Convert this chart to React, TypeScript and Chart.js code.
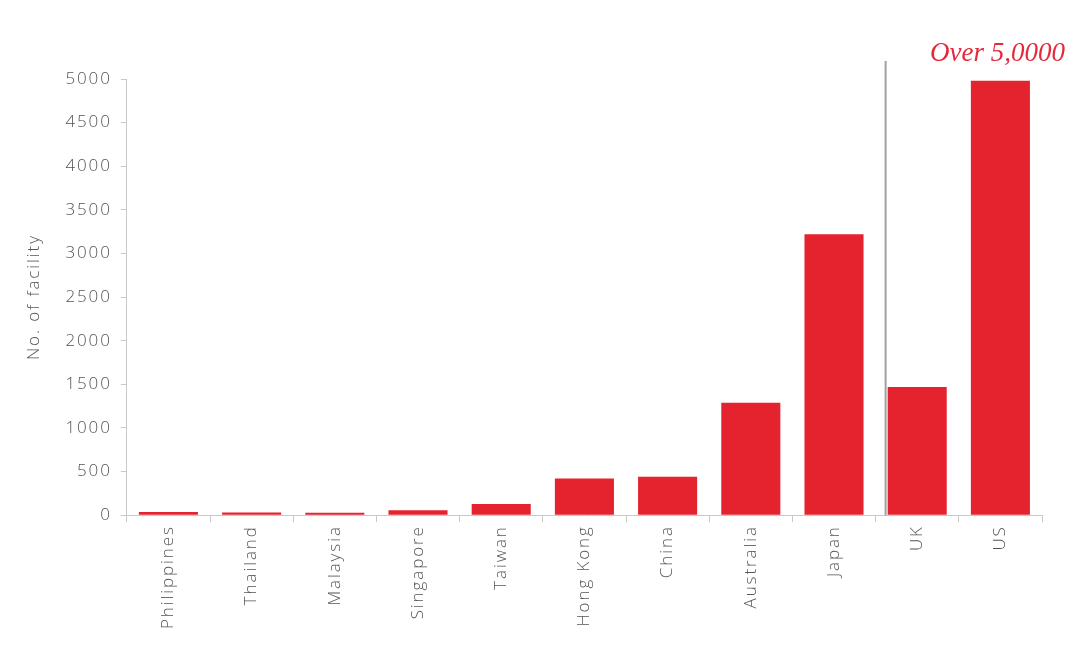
import React, { useEffect, useRef } from 'react';
import { Chart, registerables } from 'chart.js';

Chart.register(...registerables);

const categories = ['Philippines', 'Thailand', 'Malaysia', 'Singapore', 'Taiwan', 'Hong Kong', 'China', 'Australia', 'Japan', 'UK', 'US'];
const facilities = [38, 30, 27, 57, 130, 420, 440, 1290, 3220, 1470, 4980];
const yMin = 0;
const yMax = 5000;
const yStep = 500;
const yTitle = 'No. of facility';
const annotationText = 'Over 5,0000';
const dividerAfterIndex = 8; // line between Japan and UK

const BAR_RED = '#E5232F';
const AXIS_GREY = '#c8c8c8';
const TEXT_GREY = '#555555';
const FONT = '"Open Sans", "DejaVu Sans", sans-serif';

const spacingPlugin = {
  id: 'spacing',
  beforeLayout(chart: any) {
    chart.ctx.letterSpacing = '1.9px';
  },
  beforeDraw(chart: any) {
    chart.ctx.letterSpacing = '1.9px';
  },
};

const overlayPlugin = {
  id: 'overlay',
  afterDatasetsDraw(chart: any) {
    const { ctx, chartArea, scales } = chart;
    const x = scales.x;
    const left = x.getPixelForValue(dividerAfterIndex);
    const right = x.getPixelForValue(dividerAfterIndex + 1);
    const lx = (left + right) / 2 + 10;
    ctx.save();
    ctx.letterSpacing = '0px';
    ctx.strokeStyle = '#a0a0a0';
    ctx.lineWidth = 2;
    ctx.beginPath();
    ctx.moveTo(lx, chartArea.top - 18);
    ctx.lineTo(lx, chartArea.bottom);
    ctx.stroke();

    ctx.fillStyle = '#E5283A';
    ctx.font = 'italic 27px "Liberation Serif", "DejaVu Serif", serif';
    ctx.textAlign = 'right';
    ctx.textBaseline = 'alphabetic';
    ctx.fillText(annotationText, chartArea.right + 23, chartArea.top - 18);
    ctx.restore();
  },
};

export default function App() {
  const canvasRef = useRef<HTMLCanvasElement | null>(null);

  useEffect(() => {
    if (!canvasRef.current) return;
    const chart = new Chart(canvasRef.current, {
      type: 'bar',
      data: {
        labels: categories,
        datasets: [
          {
            data: facilities,
            backgroundColor: BAR_RED,
            borderWidth: 0,
            barPercentage: 0.71,
            categoryPercentage: 1,
          },
        ],
      },
      options: {
        animation: false,
        responsive: false,
        maintainAspectRatio: false,
        layout: { padding: { top: 79, right: 38, left: 24, bottom: 21 } },
        plugins: {
          legend: { display: false },
          tooltip: { enabled: false },
        },
        scales: {
          x: {
            grid: { display: true, drawOnChartArea: false, tickLength: 7, color: AXIS_GREY, offset: true },
            border: { color: AXIS_GREY, width: 1 },
            ticks: {
              color: TEXT_GREY,
              font: { family: FONT, size: 17, weight: '300' as any },
              minRotation: 90,
              maxRotation: 90,
              autoSkip: false,
              padding: 3,
            },
          },
          y: {
            min: yMin,
            max: yMax,
            grid: { display: true, drawOnChartArea: false, tickLength: 6, color: AXIS_GREY },
            border: { color: AXIS_GREY, width: 1 },
            ticks: {
              stepSize: yStep,
              color: TEXT_GREY,
              font: { family: FONT, size: 17, weight: '300' as any },
              padding: 9,
              callback: (v: any) => String(v),
            },
            title: {
              display: true,
              text: yTitle,
              color: TEXT_GREY,
              font: { family: FONT, size: 17, weight: '300' as any },
              padding: { top: 0, bottom: 12 },
            },
          },
        },
      },
      plugins: [spacingPlugin, overlayPlugin],
    });
    return () => chart.destroy();
  }, []);

  return (
    <div style={{ position: 'fixed', left: 0, top: 0, width: 1080, height: 653, background: '#fff' }}>
      <canvas ref={canvasRef} width={1080} height={653} style={{ width: 1080, height: 653, display: 'block' }} />
    </div>
  );
}
